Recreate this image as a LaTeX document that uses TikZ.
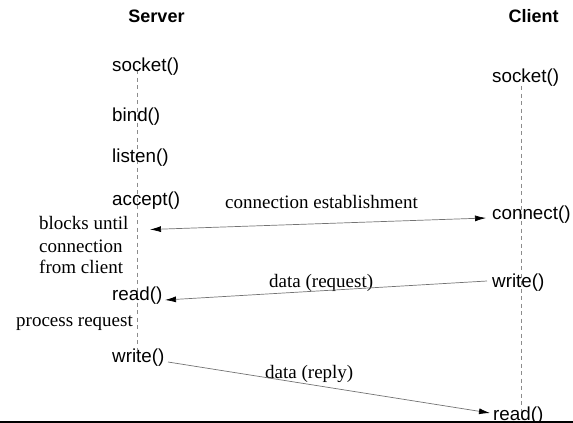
\documentclass[tikz,border=0pt]{standalone}
\usepackage{fontspec}
\setmainfont{Liberation Serif}
\newfontfamily\sansfn{Liberation Sans}
\usetikzlibrary{arrows.meta}
\tikzset{msgtip/.tip={Latex[length=11pt,width=6pt,color=black,fill=black]}}
\begin{document}
\begin{tikzpicture}[x=1pt,y=-1pt,
  call/.style={anchor=base west,inner sep=0pt,font=\sansfn\fontsize{18.8}{22}\selectfont},
  head/.style={anchor=base,inner sep=0pt,font=\sansfn\bfseries\fontsize{18}{21}\selectfont},
  note/.style={anchor=base west,inner sep=0pt,font=\fontsize{19}{22}\selectfont},
  lifeline/.style={draw=black!45,line width=0.7pt,dash pattern=on 4pt off 3.5pt},
  msg/.style={draw=black!55,line width=0.7pt},
]
\useasboundingbox (0,0) rectangle (573,423);

% column headings
\node[head] (srvhead) at (156.5,23) {Server};
\node[head] (clihead) at (533.5,23) {Client};

% lifelines
\coordinate (srvtop) at (137,70);
\coordinate (srvbot) at (137,352);
\coordinate (clitop) at (521,86);
\coordinate (clibot) at (521,414);
\draw[lifeline] (srvtop) -- (srvbot);
\draw[lifeline] (clitop) -- (clibot);

% server calls
\node[call] (ssocket) at (112,71)  {socket()};
\node[call] (sbind)   at (112,121) {bind()};
\node[call] (slisten) at (112,162) {listen()};
\node[call] (saccept) at (112,205) {accept()};
\node[call] (sread)   at (112,300) {read()};
\node[call] (swrite)  at (112,362) {write()};

% server notes
\node[note] (blk1) at (39,229) {blocks until};
\node[note] (blk2) at (39,252) {connection};
\node[note] (blk3) at (39,273) {from client};
\node[note] (proc) at (16,326) {process request};

% client calls
\node[call] (csocket)  at (492,82)  {socket()};
\node[call] (cconnect) at (492,219) {connect()};
\node[call] (cwrite)   at (492,287) {write()};
\node[call] (cread)    at (493,420) {read()};

% messages
\coordinate (conL) at (150,229.5);
\coordinate (conR) at (486,218);
\coordinate (reqR) at (487,281);
\coordinate (reqL) at (165,300);
\coordinate (repL) at (168,362);
\coordinate (repR) at (490,413);

\node[note] (conlbl) at (225,208) {connection establishment};
\node[note] (reqlbl) at (269,287) {data (request)};
\node[note] (replbl) at (265,378) {data (reply)};

\draw[msg,{msgtip}-{msgtip}] (conL) -- (conR);
\draw[msg,-{msgtip}] (reqR) -- (reqL);
\draw[msg,-{msgtip}] (repL) -- (repR);

% rule along the bottom edge
\coordinate (ruleL) at (0,422);
\coordinate (ruleR) at (573,422);
\draw[line width=2pt] (ruleL) -- (ruleR);
\end{tikzpicture}
\end{document}
